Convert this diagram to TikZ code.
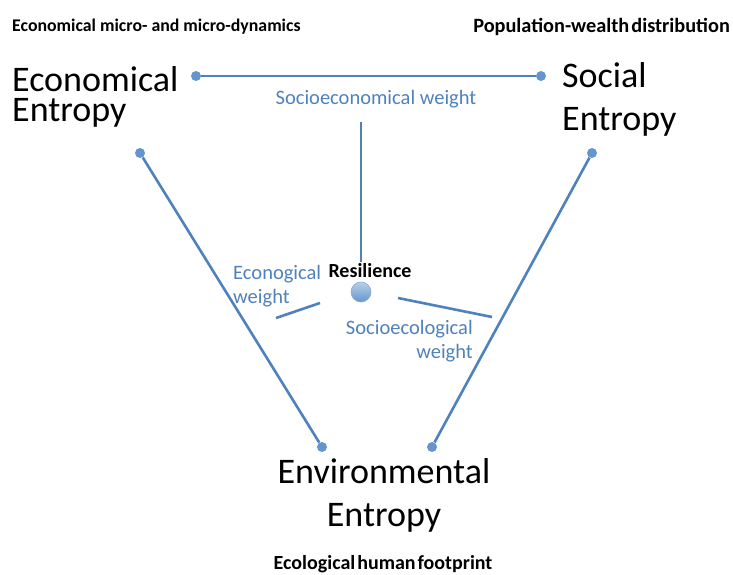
\documentclass[tikz,border=0pt]{standalone}
\usepackage{fontspec}
\setmainfont{Carlito}
\definecolor{lineblue}{RGB}{79,129,189}
\definecolor{dotblue}{RGB}{100,150,205}
\newcommand{\tightsp}{\spaceskip=0.1em\relax}
\begin{document}
\begin{tikzpicture}[x=1pt,y=-1pt,
  conn/.style={draw=lineblue,line width=2.6pt},
  dotend/.style={circle,fill=dotblue,inner sep=0pt,minimum size=10pt},
  bigtxt/.style={inner sep=0pt,font=\fontsize{36}{43}\selectfont},
  wlabel/.style={inner sep=0pt,text=lineblue,font=\fontsize{20.5}{24}\selectfont},
  title/.style={inner sep=0pt}]
\useasboundingbox (0,0) rectangle (733,574);
% titles
\node[title,anchor=base west,font=\fontsize{17.8}{20}\selectfont\bfseries] (t1) at (12,31) {Economical micro- and micro-dynamics};
\node[title,anchor=base east,font=\fontsize{20.3}{22}\selectfont\bfseries] (t2) at (730,32) {\tightsp Population-wealth distribution};
\node[title,anchor=base,font=\fontsize{20}{22}\selectfont\bfseries] (t3) at (383,569) {\tightsp Ecological human footprint};
% big labels
\node[bigtxt,anchor=base west,align=left,font=\fontsize{36}{30}\selectfont] (econ) at (12,121) {Economical\\Entropy};
\node[bigtxt,anchor=base west,align=left] (soc) at (562,130) {Social\\Entropy};
\node[bigtxt,anchor=base,align=center] (env) at (384,526) {Environmental\\Entropy};
% dots
\node[dotend] (a1) at (196,76) {};
\node[dotend] (a2) at (541,76) {};
\node[dotend] (b1) at (140,153) {};
\node[dotend] (b2) at (322,447) {};
\node[dotend] (c1) at (592,153) {};
\node[dotend] (c2) at (432,447) {};
\draw[conn] (a1) -- (a2);
\draw[conn] (b1) -- (b2);
\draw[conn] (c1) -- (c2);
% inner lines
\coordinate (v1) at (361,122);
\coordinate (v2) at (361,262);
\coordinate (l1) at (276,318);
\coordinate (l2) at (320,303);
\coordinate (r1) at (398,298);
\coordinate (r2) at (492,317);
\draw[conn] (v1) -- (v2);
\draw[conn] (l1) -- (l2);
\draw[conn] (r1) -- (r2);
% resilience
\node[circle,draw=dotblue!80!white,line width=0.6pt,top color=dotblue!45!white,bottom color=dotblue,minimum size=20pt,inner sep=0pt] (res) at (361,292) {};
\node[inner sep=0pt,anchor=base,font=\fontsize{20}{22}\selectfont\bfseries] (reslbl) at (370,277) {Resilience};
% weights
\node[wlabel,anchor=base] (sew) at (376,104) {Socioeconomical weight};
\node[wlabel,anchor=base west,align=left] (ecw) at (233,303) {Econogical\\weight};
\node[wlabel,anchor=base east,align=right] (scw) at (473,358) {Socioecological\\weight};
\end{tikzpicture}
\end{document}
